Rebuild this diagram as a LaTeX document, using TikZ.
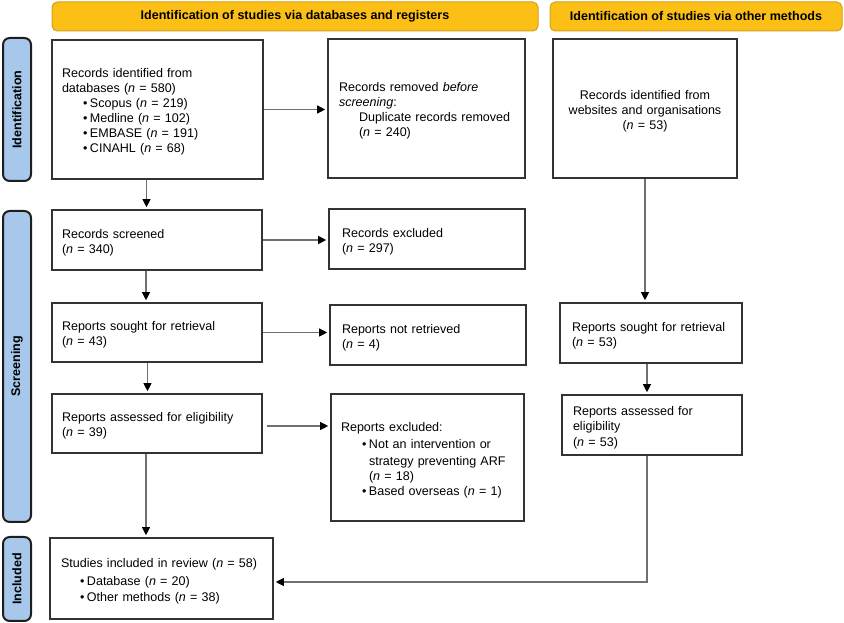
\documentclass[tikz,border=0pt]{standalone}
\usepackage{fontspec}
\setmainfont{Liberation Sans}
\usetikzlibrary{arrows.meta,calc}
\definecolor{hdrfill}{HTML}{FBBF15}
\definecolor{hdrdraw}{HTML}{D4A017}
\definecolor{sidefill}{HTML}{A7C7EB}
\definecolor{sidedraw}{HTML}{1E1E1E}
\definecolor{boxdraw}{HTML}{333333}
\definecolor{linegrey}{HTML}{707070}
\def\px{0.75pt}
\newcommand{\nn}{\textit{n}}
\newcommand{\bul}[1]{\hspace*{#1}\makebox[5.25pt][l]{\textbullet}}
\tikzset{
  hdr/.style={draw=hdrdraw, line width=0.75pt, fill=hdrfill, rounded corners=4pt, font=\bfseries, inner sep=0pt},
  side/.style={draw=sidedraw, line width=1.5pt, fill=sidefill, rounded corners=5pt, inner sep=0pt},
  sidetext/.style={rotate=90, font=\bfseries, inner sep=0pt},
  box/.style={draw=boxdraw, line width=1.2pt, align=left, inner ysep=0pt, text height=10.5pt},
  cbox/.style={draw=boxdraw, line width=1.2pt, align=center, inner ysep=0pt, text height=10.5pt},
  arr/.style={draw=linegrey, line width=0.8pt, -{Triangle[length=6pt,width=6pt,color=black]}, shorten >=1.5pt},
  every node/.style={font=\fontsize{9.4}{11.25}\selectfont}
}
\begin{document}
\begin{tikzpicture}[x=0.75pt,y=-0.75pt]
\useasboundingbox (0,0) rectangle (844,623);
% headers
\node[hdr, minimum width=486*\px, minimum height=29*\px] (h1) at (295,16.5) {\fontsize{9.4}{11.25}\selectfont\bfseries Identification of studies via databases and registers};
\node[hdr, minimum width=292*\px, minimum height=29*\px] (h2) at (696,16.5) {\fontsize{9.4}{11.25}\selectfont\bfseries Identification of studies via other methods};
% side labels
\node[side, minimum width=28*\px, minimum height=143*\px] (s1) at (17,109.5) {};
\node[sidetext] (s1t) at (s1.center) {\fontsize{9.4}{11.25}\selectfont\bfseries Identification};
\node[side, minimum width=28*\px, minimum height=311*\px] (s2) at (17,366.5) {};
\node[sidetext] (s2t) at (s2.center) {\fontsize{9.4}{11.25}\selectfont\bfseries Screening};
\node[side, minimum width=28*\px, minimum height=84*\px] (s3) at (17,579) {};
\node[sidetext] (s3t) at (s3.center) {\fontsize{9.4}{11.25}\selectfont\bfseries Included};
% boxes
\node[box, inner xsep=10*\px, text width=191*\px, minimum height=139*\px] (A) at (157.5,109.5)
 {Records identified from\\ databases (\nn{} = 580)\\
  \bul{15.75pt}Scopus (\nn{} = 219)\\
  \bul{15.75pt}Medline (\nn{} = 102)\\
  \bul{15.75pt}EMBASE (\nn{} = 191)\\
  \bul{15.75pt}CINAHL (\nn{} = 68)};
\node[box, inner xsep=11*\px, text width=175*\px, minimum height=139*\px] (B) at (426.5,108.5)
 {Records removed \textit{before}\\ \textit{screening}:\\
  \hspace*{15pt}Duplicate records removed\\
  \hspace*{15pt}(\nn{} = 240)};
\node[cbox, inner xsep=8*\px, text width=168*\px, minimum height=139*\px] (C) at (645,108.5)
 {Records identified from\\ websites and organisations\\ (\nn{} = 53)};
\node[box, inner xsep=10*\px, text width=190*\px, minimum height=60*\px] (D) at (157,240)
 {Records screened\\ (\nn{} = 340)};
\node[box, inner xsep=13*\px, text width=170*\px, minimum height=60*\px] (E) at (427,239)
 {Records excluded\\ (\nn{} = 297)};
\node[box, inner xsep=10*\px, text width=190*\px, minimum height=59*\px] (F) at (157,332.5)
 {Reports sought for retrieval\\ (\nn{} = 43)};
\node[box, inner xsep=12*\px, text width=172*\px, minimum height=60*\px] (G) at (428,335)
 {Reports not retrieved\\ (\nn{} = 4)};
\node[box, inner xsep=12*\px, text width=158*\px, minimum height=60*\px] (H) at (651,333)
 {Reports sought for retrieval\\ (\nn{} = 53)};
\node[box, inner xsep=10*\px, text width=190*\px, minimum height=59*\px] (I) at (157,423.5)
 {Reports assessed for eligibility\\ (\nn{} = 39)};
\node[box, inner xsep=10*\px, text width=173*\px, minimum height=127*\px] (J) at (427.5,457.5)
 {Reports excluded:\\[1.5pt]
  \bul{15.75pt}Not an intervention or\\[1.5pt]
  \hspace*{21pt}strategy preventing ARF\\
  \hspace*{21pt}(\nn{} = 18)\\
  \bul{15.75pt}Based overseas (\nn{} = 1)};
\node[box, inner xsep=11*\px, text width=158*\px, minimum height=60*\px] (K) at (652,425)
 {Reports assessed for\\ eligibility\\[0.75pt] (\nn{} = 53)};
\node[box, inner xsep=11*\px, text width=201*\px, minimum height=81*\px] (L) at (161.5,578.5)
 {Studies included in review (\nn{} = 58)\\[2pt]
  \bul{14.25pt}Database (\nn{} = 20)\\[0.75pt]
  \bul{14.25pt}Other methods (\nn{} = 38)};
% connector anchor coordinates
\coordinate (aS) at ($(A.south)+(-11,0)$);
\coordinate (dS) at ($(D.south)+(-11,0)$);
\coordinate (fS) at ($(F.south)+(-9.5,0)$);
\coordinate (iE) at ($(I.east)+(4,2.5)$);
\coordinate (iS) at ($(I.south)+(-11,0)$);
\coordinate (hS) at ($(H.south)+(-4,0)$);
\coordinate (kS) at ($(K.south)+(-5,0)$);
\coordinate (lE) at ($(L.east)+(0,3.5)$);
% connectors
\draw[arr] (A.east) -- (A.east -| B.west);
\draw[arr] (aS) -- (aS |- D.north);
\draw[arr] (D.east) -- (D.east -| E.west);
\draw[arr] (dS) -- (dS |- F.north);
\draw[arr] (F.east) -- (F.east -| G.west);
\draw[arr] (fS) -- (fS |- I.north);
\draw[arr] (iE) -- (iE -| J.west);
\draw[arr] (iS) -- (iS |- L.north);
\draw[arr] (C.south) -- (C.south |- H.north);
\draw[arr] (hS) -- (hS |- K.north);
\draw[arr] (kS) |- (lE);
\end{tikzpicture}
\end{document}
